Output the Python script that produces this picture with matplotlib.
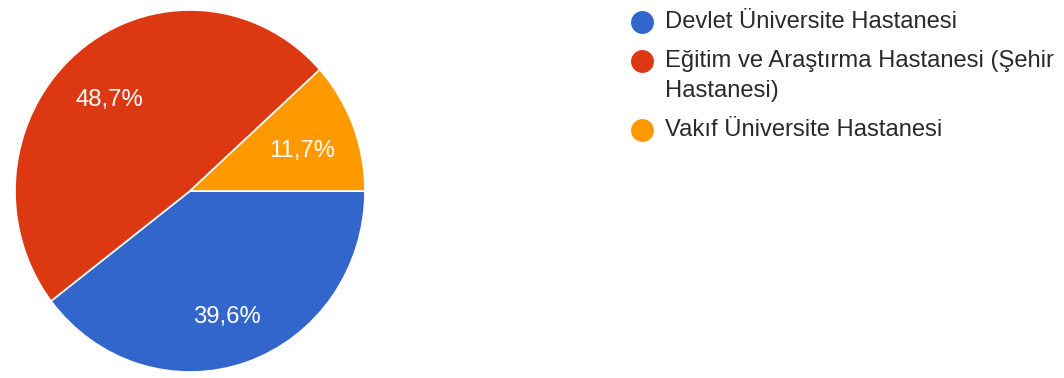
import matplotlib
matplotlib.use("Agg")
import matplotlib.pyplot as plt
from matplotlib.transforms import offset_copy

# Survey answer shares (percent)
categories = [
    "Devlet Üniversite Hastanesi",
    "Eğitim ve Araştırma Hastanesi (Şehir\nHastanesi)",
    "Vakıf Üniversite Hastanesi",
]
shares = [39.6, 48.7, 11.7]
colors = ["#3366CC", "#DC3912", "#FF9900"]

plt.rcParams["font.family"] = ["Liberation Sans", "DejaVu Sans"]

W, H = 1064, 378
fig = plt.figure(figsize=(W / 100, H / 100), dpi=100)
fig.patch.set_facecolor("white")

# Pie area (pixel geometry converted to figure fractions)
cx, cy, rx, ry = 190, 191, 175, 181
ax = fig.add_axes([(cx - rx) / W, (H - cy - ry) / H, 2 * rx / W, 2 * ry / H])
wedges, texts, autotexts = ax.pie(
    shares,
    colors=colors,
    startangle=0,
    counterclock=False,
    radius=1.0,
    autopct=lambda p: f"{p:.1f}".replace(".", ",") + "%",
    pctdistance=0.70,
    wedgeprops=dict(edgecolor="white", linewidth=1.2),
    textprops=dict(color="white", fontsize=17.2),
)
# nudge the percentage labels slightly downward
for t in autotexts:
    t.set_transform(offset_copy(ax.transData, fig=fig, x=-2, y=-6, units="dots"))
ax.set_aspect("auto")
ax.set_xlim(-1, 1)
ax.set_ylim(-1, 1)
ax.axis("off")

# Legend drawn in pixel coordinates
lax = fig.add_axes([0, 0, 1, 1])
lax.set_xlim(0, W)
lax.set_ylim(H, 0)
lax.axis("off")

y = 22
line_step = 30
entry_gap = 39
for label, color in zip(categories, colors):
    lax.plot([642], [y], marker="o", markersize=16.5, color=color,
             markeredgewidth=0, linestyle="none")
    lines = label.split("\n")
    for i, line in enumerate(lines):
        lax.text(665, y + i * line_step, line, fontsize=17.1, color="#2a2a2a",
                 va="center", ha="left")
    y += (len(lines) - 1) * line_step + entry_gap

fig.savefig("out.png", dpi=100, facecolor="white")
